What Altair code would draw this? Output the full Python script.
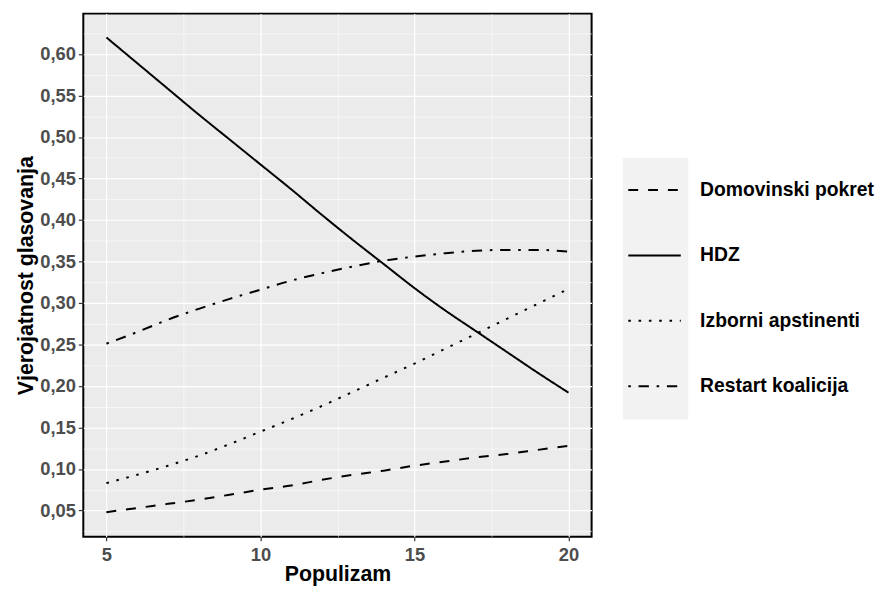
import altair as alt
import pandas as pd

# ---- data ----
populizam = [5, 6, 7, 8, 9, 10, 11, 12, 13, 14, 15, 16, 17, 18, 19, 20]
stranke = ["Domovinski pokret", "HDZ", "Izborni apstinenti", "Restart koalicija"]
domovinski = [0.048, 0.053, 0.058, 0.063, 0.069, 0.075, 0.080, 0.087, 0.093, 0.098,
              0.104, 0.109, 0.114, 0.118, 0.123, 0.128]
hdz = [0.620, 0.589, 0.558, 0.527, 0.497, 0.467, 0.437, 0.406, 0.376, 0.347,
       0.318, 0.291, 0.266, 0.241, 0.216, 0.192]
izborni = [0.083, 0.093, 0.104, 0.116, 0.130, 0.145, 0.160, 0.176, 0.193, 0.210,
           0.227, 0.245, 0.263, 0.281, 0.299, 0.317]
restart = [0.251, 0.265, 0.280, 0.293, 0.305, 0.316, 0.327, 0.336, 0.344, 0.351,
           0.356, 0.360, 0.363, 0.364, 0.364, 0.362]

x_ticks = [5, 7.5, 10, 12.5, 15, 17.5, 20]
y_ticks = [0.025, 0.05, 0.075, 0.10, 0.125, 0.15, 0.175, 0.20, 0.225, 0.25, 0.275,
           0.30, 0.325, 0.35, 0.375, 0.40, 0.425, 0.45, 0.475, 0.50, 0.525, 0.55,
           0.575, 0.60, 0.625]

dash_styles = [[10, 10], [1, 0], [2.6, 7.8], [2.6, 7.8, 10.4, 7.8]]

rows = []
for name, vals in zip(stranke, [domovinski, hdz, izborni, restart]):
    for p, v in zip(populizam, vals):
        rows.append({"Populizam": p, "Vjerojatnost": v, "Stranka": name})
df = pd.DataFrame(rows)
legend_df = pd.DataFrame({"Stranka": stranke})

FONT = "Liberation Sans"
x_major = "datum.value % 5 == 0"
y_major = "abs(datum.value * 20 - round(datum.value * 20)) < 0.001"

dash_scale = alt.Scale(domain=stranke, range=dash_styles)

main = alt.Chart(df).mark_line(color="black", strokeWidth=2, interpolate="monotone").encode(
    x=alt.X(
        "Populizam:Q",
        scale=alt.Scale(domain=[4.25, 20.75], nice=False, zero=False),
        axis=alt.Axis(
            title="Populizam",
            values=x_ticks,
            labelExpr=f"{x_major} ? datum.label : ''",
            domain=False,
            grid=True,
            gridColor="white",
            gridWidth={"condition": {"test": x_major, "value": 1.2}, "value": 0.55},
            tickColor="#333333",
            tickSize=4,
            tickWidth=1.2,
            tickOpacity={"condition": {"test": x_major, "value": 1}, "value": 0},
            labelColor="#4D4D4D",
            labelFontSize=18.5,
            labelFontWeight="bold",
            labelPadding=5,
            labelOverlap=False,
            labelFlush=False,
            titleFontSize=21.5,
            titleFontWeight="bold",
            titleColor="black",
            titlePadding=0,
        ),
    ),
    y=alt.Y(
        "Vjerojatnost:Q",
        scale=alt.Scale(domain=[0.0183, 0.6487], nice=False, zero=False),
        axis=alt.Axis(
            title="Vjerojatnost glasovanja",
            values=y_ticks,
            labelExpr=f"{y_major} ? replace(format(datum.value, '.2f'), '.', ',') : ''",
            domain=False,
            grid=True,
            gridColor="white",
            gridWidth={"condition": {"test": y_major, "value": 1.2}, "value": 0.55},
            tickColor="#333333",
            tickSize=5,
            tickWidth=1.2,
            tickOpacity={"condition": {"test": y_major, "value": 1}, "value": 0},
            labelColor="#4D4D4D",
            labelFontSize=18.5,
            labelFontWeight="bold",
            labelPadding=3,
            labelOverlap=False,
            labelFlush=False,
            titleFontSize=21.5,
            titleFontWeight="bold",
            titleColor="black",
            titlePadding=2,
        ),
    ),
    strokeDash=alt.StrokeDash("Stranka:N", scale=dash_scale, legend=None),
    detail="Stranka:N",
).properties(
    width=513,
    height=528,
    view=alt.ViewBackground(fill="#EBEBEB", stroke="black", strokeWidth=2),
)

spacer = alt.Chart(legend_df).mark_point(opacity=0, size=1).encode(
    x=alt.value(33), y=alt.value(70)
).properties(width=66, height=143, view=alt.ViewBackground(stroke="transparent"))

legend = alt.Chart(legend_df).mark_rule(color="black", strokeWidth=2).encode(
    x=alt.value(6),
    x2=alt.value(59),
    y=alt.Y(
        "Stranka:N",
        sort=stranke,
        scale=alt.Scale(paddingInner=0, paddingOuter=0),
        axis=alt.Axis(
            orient="right",
            title=None,
            ticks=False,
            domain=False,
            grid=False,
            labelColor="black",
            labelFontSize=19.5,
            labelFontWeight="bold",
            labelPadding=12,
            labelLimit=400,
        ),
    ),
    strokeDash=alt.StrokeDash("Stranka:N", scale=dash_scale, legend=None),
).properties(
    width=66,
    height=264,
    view=alt.ViewBackground(fill="#F2F2F2", stroke="transparent"),
)

right = alt.vconcat(spacer, legend, spacing=0)

chart = alt.hconcat(main, right, spacing=29).properties(
    padding={"left": 6, "top": 2, "right": 0, "bottom": 0}
).configure(font=FONT).configure_axis(labelFont=FONT, titleFont=FONT)

chart.save("out.html", embed_options={"renderer": "svg", "actions": False})
